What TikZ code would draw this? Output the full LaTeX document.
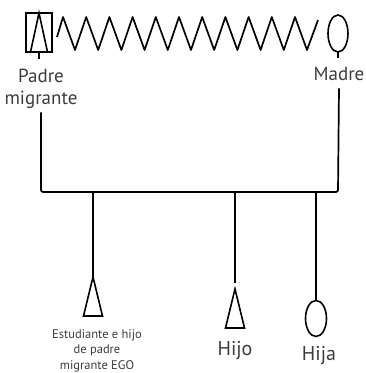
\documentclass[tikz,border=0pt]{standalone}
\usepackage{fontspec}
\setmainfont{PT Sans}
\usetikzlibrary{shapes.geometric, positioning}
\definecolor{labelgray}{RGB}{60,60,60}

\begin{document}
\begin{tikzpicture}[x=1pt, y=-1pt,
  kin/.style={line width=1.7pt, line join=round},
  male/.style={isosceles triangle, isosceles triangle stretches,
               shape border rotate=90, draw, line width=1.6pt,
               inner sep=0pt, outer sep=0pt, anchor=apex,
               minimum width=19pt, minimum height=39pt},
  female/.style={ellipse, draw, line width=1.6pt, inner sep=0pt,
                 outer sep=0pt, minimum width=20pt, minimum height=37pt},
  lbl/.style={text=labelgray, inner sep=0pt, align=center}]

\useasboundingbox (0,0) rectangle (366,373);

% Padres
\node[rectangle, draw, line width=1.6pt, inner sep=0pt, outer sep=0pt,
      minimum width=26pt, minimum height=39pt] (padre) at (39,32.5) {};
\node[male, minimum width=17pt] (padretri) at (padre.north) {};
\node[female] (madre) at (338,33.5) {};

% Alianza
\draw[kin] ([xshift=5pt,yshift=-4.5pt]padre.east)
  \foreach \i in {0,...,10} { -- ({63+23.2*\i},17) -- ({75+23.2*\i},50) }
  -- ([xshift=-10pt,yshift=13.5pt]madre.west);

% Etiquetas de los padres
\draw[kin] (padre.south) -- ([yshift=-7pt]padre.south);
\draw[kin] (madre.south) -- ([yshift=-6pt]madre.south);
\node[lbl, font=\fontsize{19}{22}\selectfont, anchor=north]
      (lpadre) at (41,68.5) {Padre\\migrante};
\node[lbl, font=\fontsize{19}{22}\selectfont, anchor=north]
      (lmadre) at (339,66.5) {Madre};

% Linea de descendencia
\coordinate (bar) at (0,192);
\draw[kin, rounded corners=2pt] ([yshift=-4pt]lpadre.south)
  |- (madre.south |- bar) -- ([yshift=-8pt]lmadre.south);

% Hijos
\node[male] (ego) at (93,277) {};
\node[male] (hijo) at (235,289) {};
\node[female, minimum width=21pt, minimum height=36pt] (hija) at (316,318.5) {};

\draw[kin] (ego.apex |- bar) -- (ego.apex);
\draw[kin] (hijo.apex |- bar) -- ([yshift=6pt]hijo.apex);
\draw[kin] (hija.north |- bar) -- (hija.north);

% Etiquetas de los hijos
\node[lbl, font=\fontsize{12.5}{15.3}\selectfont, anchor=north]
      (lego) at (97,329.5) {Estudiante e hijo\\de padre\\migrante EGO};
\node[lbl, font=\fontsize{20}{22}\selectfont, anchor=base]
      (lhijo) at (235,355) {Hijo};
\node[lbl, font=\fontsize{20}{22}\selectfont, anchor=base]
      (lhija) at (319,360) {Hija};

\end{tikzpicture}
\end{document}
